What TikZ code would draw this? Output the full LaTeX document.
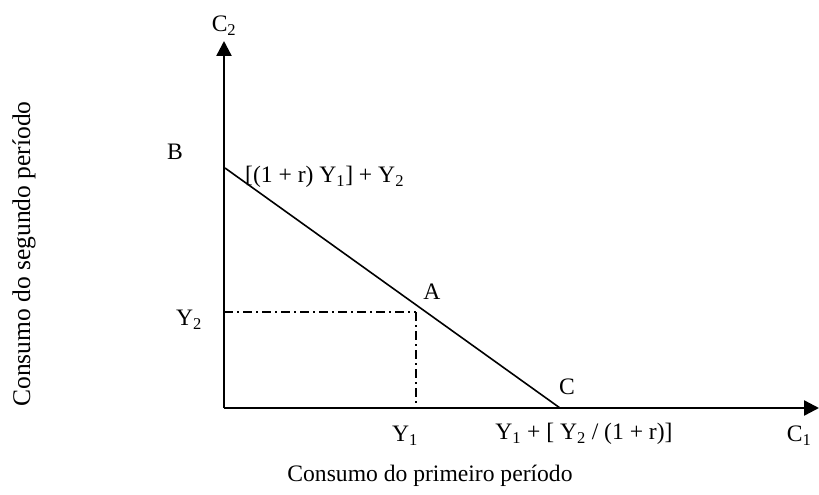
\documentclass[tikz,border=0pt]{standalone}
\usepackage{fontspec}
\setmainfont{Liberation Serif}
\usetikzlibrary{arrows.meta, positioning}

\begin{document}
\begin{tikzpicture}[
        x=1pt, y=-1pt,
        lbl/.style={inner sep=0pt, font=\fontsize{23.6}{28}\selectfont},
        axis/.style={-{Triangle[length=15pt, width=15pt]}, line width=2.4pt},
        budget/.style={line width=1.6pt},
        guide/.style={line width=1.4pt, dash pattern=on 9pt off 4pt on 2pt off 4pt}
    ]
    \useasboundingbox (0,0) rectangle (819,495);

    % axes
    \coordinate (O) at (224,408);
    \coordinate (ytop) at (224,41);
    \coordinate (xend) at (819,408);
    \draw[axis] (O) -- (ytop);
    \draw[axis] (O) -- (xend);

    % budget line
    \coordinate (ptB) at (225,168);
    \coordinate (ptC) at (560,408);
    \coordinate (ptA) at (416,312);
    \draw[budget] (ptB) -- (ptC);

    % guides to A
    \draw[guide] (O |- ptA) -- (ptA);
    \draw[guide] (ptA) -- (ptA |- O);

    % labels
    \node[lbl] (c2) at (224,26) {C\textsubscript{2}};
    \node[lbl] (c1) at (799,436) {C\textsubscript{1}};
    \node[lbl] (labB) at (175,152) {B};
    \node[lbl, anchor=west] (labBval) at (245,177) {[(1 + r) Y\textsubscript{1}] + Y\textsubscript{2}};
    \node[lbl] (labA) at (432,292) {A};
    \node[lbl] (labY2) at (189,320) {Y\textsubscript{2}};
    \node[lbl] (labY1) at (405,436) {Y\textsubscript{1}};
    \node[lbl] (labC) at (567,387) {C};
    \node[lbl] (labCval) at (584,434) {Y\textsubscript{1} + [ Y\textsubscript{2} / (1 + r)]};
    \node[lbl] (xtitle) at (430,476) {Consumo do primeiro período};
    \node[lbl, rotate=90, font=\fontsize{25.5}{30}\selectfont] (ytitle) at (24,254) {Consumo do segundo período};

\end{tikzpicture}
\end{document}
